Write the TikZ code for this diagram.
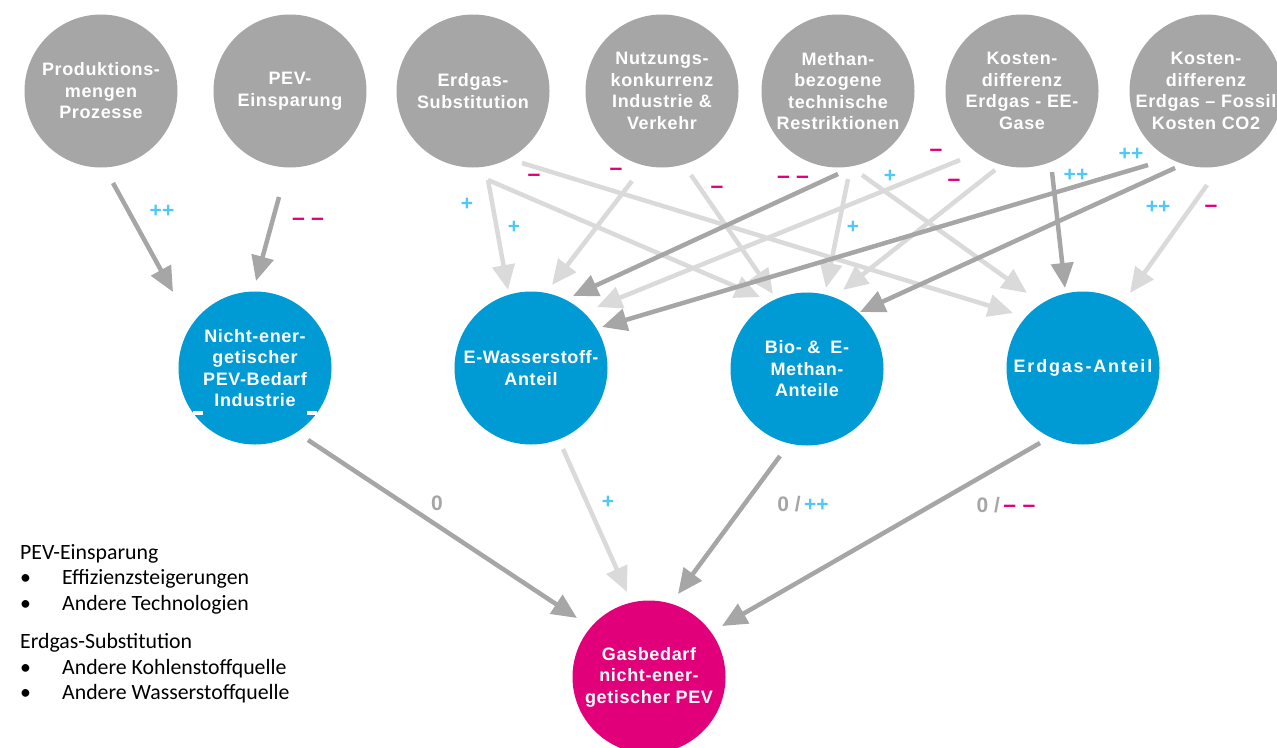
\documentclass[tikz,border=0pt]{standalone}
\usepackage{fontspec}
\setmainfont{Liberation Sans}
\newfontfamily\circlefont[LetterSpace=3.5]{Liberation Sans}
\newfontfamily\widecirclefont[LetterSpace=10]{Liberation Sans}
\newfontfamily\notefont{Carlito}
\usetikzlibrary{arrows.meta,calc}

\definecolor{factorgray}{HTML}{A6A6A6}
\definecolor{shareblue}{HTML}{009BD5}
\definecolor{demandpink}{HTML}{E2007A}
\definecolor{darklink}{HTML}{A6A6A6}
\definecolor{lightlink}{HTML}{DADADA}
\definecolor{pluscyan}{HTML}{50C8F5}
\definecolor{minuspink}{HTML}{E2007A}

\begin{document}
\begin{tikzpicture}[x=1pt,y=-1pt,
  factor/.style={circle,fill=factorgray,minimum size=153pt,inner sep=-30pt,
    text=white,align=center,
    font=\circlefont\bfseries\fontsize{18}{21.5}\selectfont},
  share/.style={factor,fill=shareblue},
  demand/.style={factor,fill=demandpink},
  link/.style={line width=4.5pt,-{Triangle[length=25pt,width=22pt]}},
  strong/.style={link,draw=darklink},
  weak/.style={link,draw=lightlink},
  sign/.style={inner sep=0pt,font=\bfseries\fontsize{21}{21}\selectfont},
  plus/.style={sign,text=pluscyan},
  minus/.style={sign,text=minuspink,font=\bfseries\fontsize{23}{23}\selectfont},
  zero/.style={sign,text=factorgray},
  note/.style={inner sep=0pt,anchor=base west,
    font=\notefont\fontsize{21.8}{25.5}\selectfont},
  bullet/.style={note}
]
\useasboundingbox (0,0) rectangle (1277,747);

% influencing factors (top row)
\node[factor] (prod)  at (101,91)  {Produktions-\\mengen\\Prozesse};
\node[factor] (pev)   at (290,91)  {PEV-\\Einsparung};
\node[factor] (subst) at (473,91)  {Erdgas-\\Substitution};
\node[factor] (nutz)  at (662,91)  {Nutzungs-\\konkurrenz\\Industrie \&\\Verkehr};
\node[factor] (meth)  at (838,91)  {Methan-\\bezogene\\technische\\Restriktionen};
\node[factor] (kee)   at (1022,91) {Kosten-\\differenz\\Erdgas - EE-\\Gase};
\node[factor] (kco)   at (1206,91) {Kosten-\\differenz\\Erdgas – Fossil\\Kosten CO2};

% intermediate quantities (middle row)
\node[share] (bedarf) at (255,368)  {Nicht-ener-\\getischer\\PEV-Bedarf\\Industrie};
\node[share] (wasser) at (531,368)  {E-Wasserstoff-\\Anteil};
\node[share] (methan) at (807,369)  {Bio-~\&\hspace{10pt}E-\\Methan-\\Anteile};
\node[share,font=\widecirclefont\bfseries\fontsize{18}{21.5}\selectfont]
  (erdgas) at (1083,368) {Erdgas-Anteil};

% small white notches at the last text line of the first blue circle
\fill[white] (193,411) rectangle (203,415);
\fill[white] (307,411) rectangle (317,415);

% target quantity
\node[demand] (gas) at (649,677) {Gasbedarf\\nicht-ener-\\getischer PEV};

% weak influences
\draw[weak] ($(subst)+(15,89)$)  -- ($(wasser)+(-23,-78)$);
\draw[weak] ($(subst)+(15,89)$)  -- ($(methan)+(-47,-72)$);
\draw[weak] ($(subst)+(49,72)$)  -- ($(erdgas)+(-70,-55)$);
\draw[weak] ($(nutz)+(-30,90)$)  -- ($(wasser)+(21,-83)$);
\draw[weak] ($(nutz)+(29,84)$)   -- ($(methan)+(-34,-75)$);
\draw[weak] ($(meth)+(10,88)$)   -- ($(methan)+(19,-81)$);
\draw[weak] ($(meth)+(24,84)$)   -- ($(erdgas)+(-56,-75)$);
\draw[weak] ($(kee)+(-62,69)$)   -- ($(wasser)+(66,-61)$);
\draw[weak] ($(kee)+(-27,79)$)   -- ($(methan)+(36,-79)$);
\draw[weak] ($(kco)+(1,94)$)     -- ($(erdgas)+(47,-75)$);
\draw[weak] ($(wasser)+(32,81)$) -- ($(gas)+(-22,-85)$);

% strong influences
\draw[strong] ($(prod)+(12,92)$)    -- ($(bedarf)+(-82,-76)$);
\draw[strong] ($(pev)+(-11,106)$)   -- ($(bedarf)+(1,-87)$);
\draw[strong] ($(meth)+(0,83)$)     -- ($(wasser)+(42,-72)$);
\draw[strong] ($(kee)+(30,81)$)     -- ($(erdgas)+(-18,-80)$);
\draw[strong] ($(kco)+(-58,74)$)    -- ($(wasser)+(71,-41)$);
\draw[strong] ($(kco)+(-31,77)$)    -- ($(methan)+(53,-57)$);
\draw[strong] ($(bedarf)+(53,72)$)  -- ($(gas)+(-72,-59)$);
\draw[strong] ($(methan)+(-27,87)$) -- ($(gas)+(29,-83)$);
\draw[strong] ($(erdgas)+(-43,75)$) -- ($(gas)+(73,-51)$);

% effect signs
\node[plus]  (e1)  at (162,211)  {++};
\node[minus] (e2)  at (308,222)  {– –};
\node[plus]  (e3)  at (467,204)  {+};
\node[plus]  (e4)  at (514,227)  {+};
\node[minus] (e5)  at (534,178)  {–};
\node[minus] (e6)  at (616,172)  {–};
\node[minus] (e7)  at (717,190)  {–};
\node[minus] (e8)  at (793,180)  {– –};
\node[plus]  (e9)  at (853,227)  {+};
\node[plus]  (e10) at (890,176)  {+};
\node[minus] (e11) at (936,153)  {–};
\node[minus] (e12) at (954,183)  {–};
\node[plus]  (e13) at (1076,175) {++};
\node[plus]  (e14) at (1131,154) {++};
\node[plus]  (e15) at (1158,207) {++};
\node[minus] (e16) at (1211,209) {–};

\node[zero]  (f1) at (437,503) {0};
\node[plus]  (f2) at (608,502) {+};
\node[zero]  (f3) at (803,504) {0 /\,\textcolor{pluscyan}{++}};
\node[zero]  (f4) at (1006,505) {0 /\,\textcolor{minuspink}{\fontsize{23}{23}\selectfont – –}};

% explanatory notes
\node[note]   (n1) at (20,559) {PEV-Einsparung};
\node[bullet] (n2) at (20,584) {\makebox[42pt][l]{•}Effizienzsteigerungen};
\node[bullet] (n3) at (20,610) {\makebox[42pt][l]{•}Andere Technologien};
\node[note]   (n4) at (20,648) {Erdgas-Substitution};
\node[bullet] (n5) at (20,674) {\makebox[42pt][l]{•}Andere Kohlenstoffquelle};
\node[bullet] (n6) at (20,699) {\makebox[42pt][l]{•}Andere Wasserstoffquelle};
\end{tikzpicture}
\end{document}
